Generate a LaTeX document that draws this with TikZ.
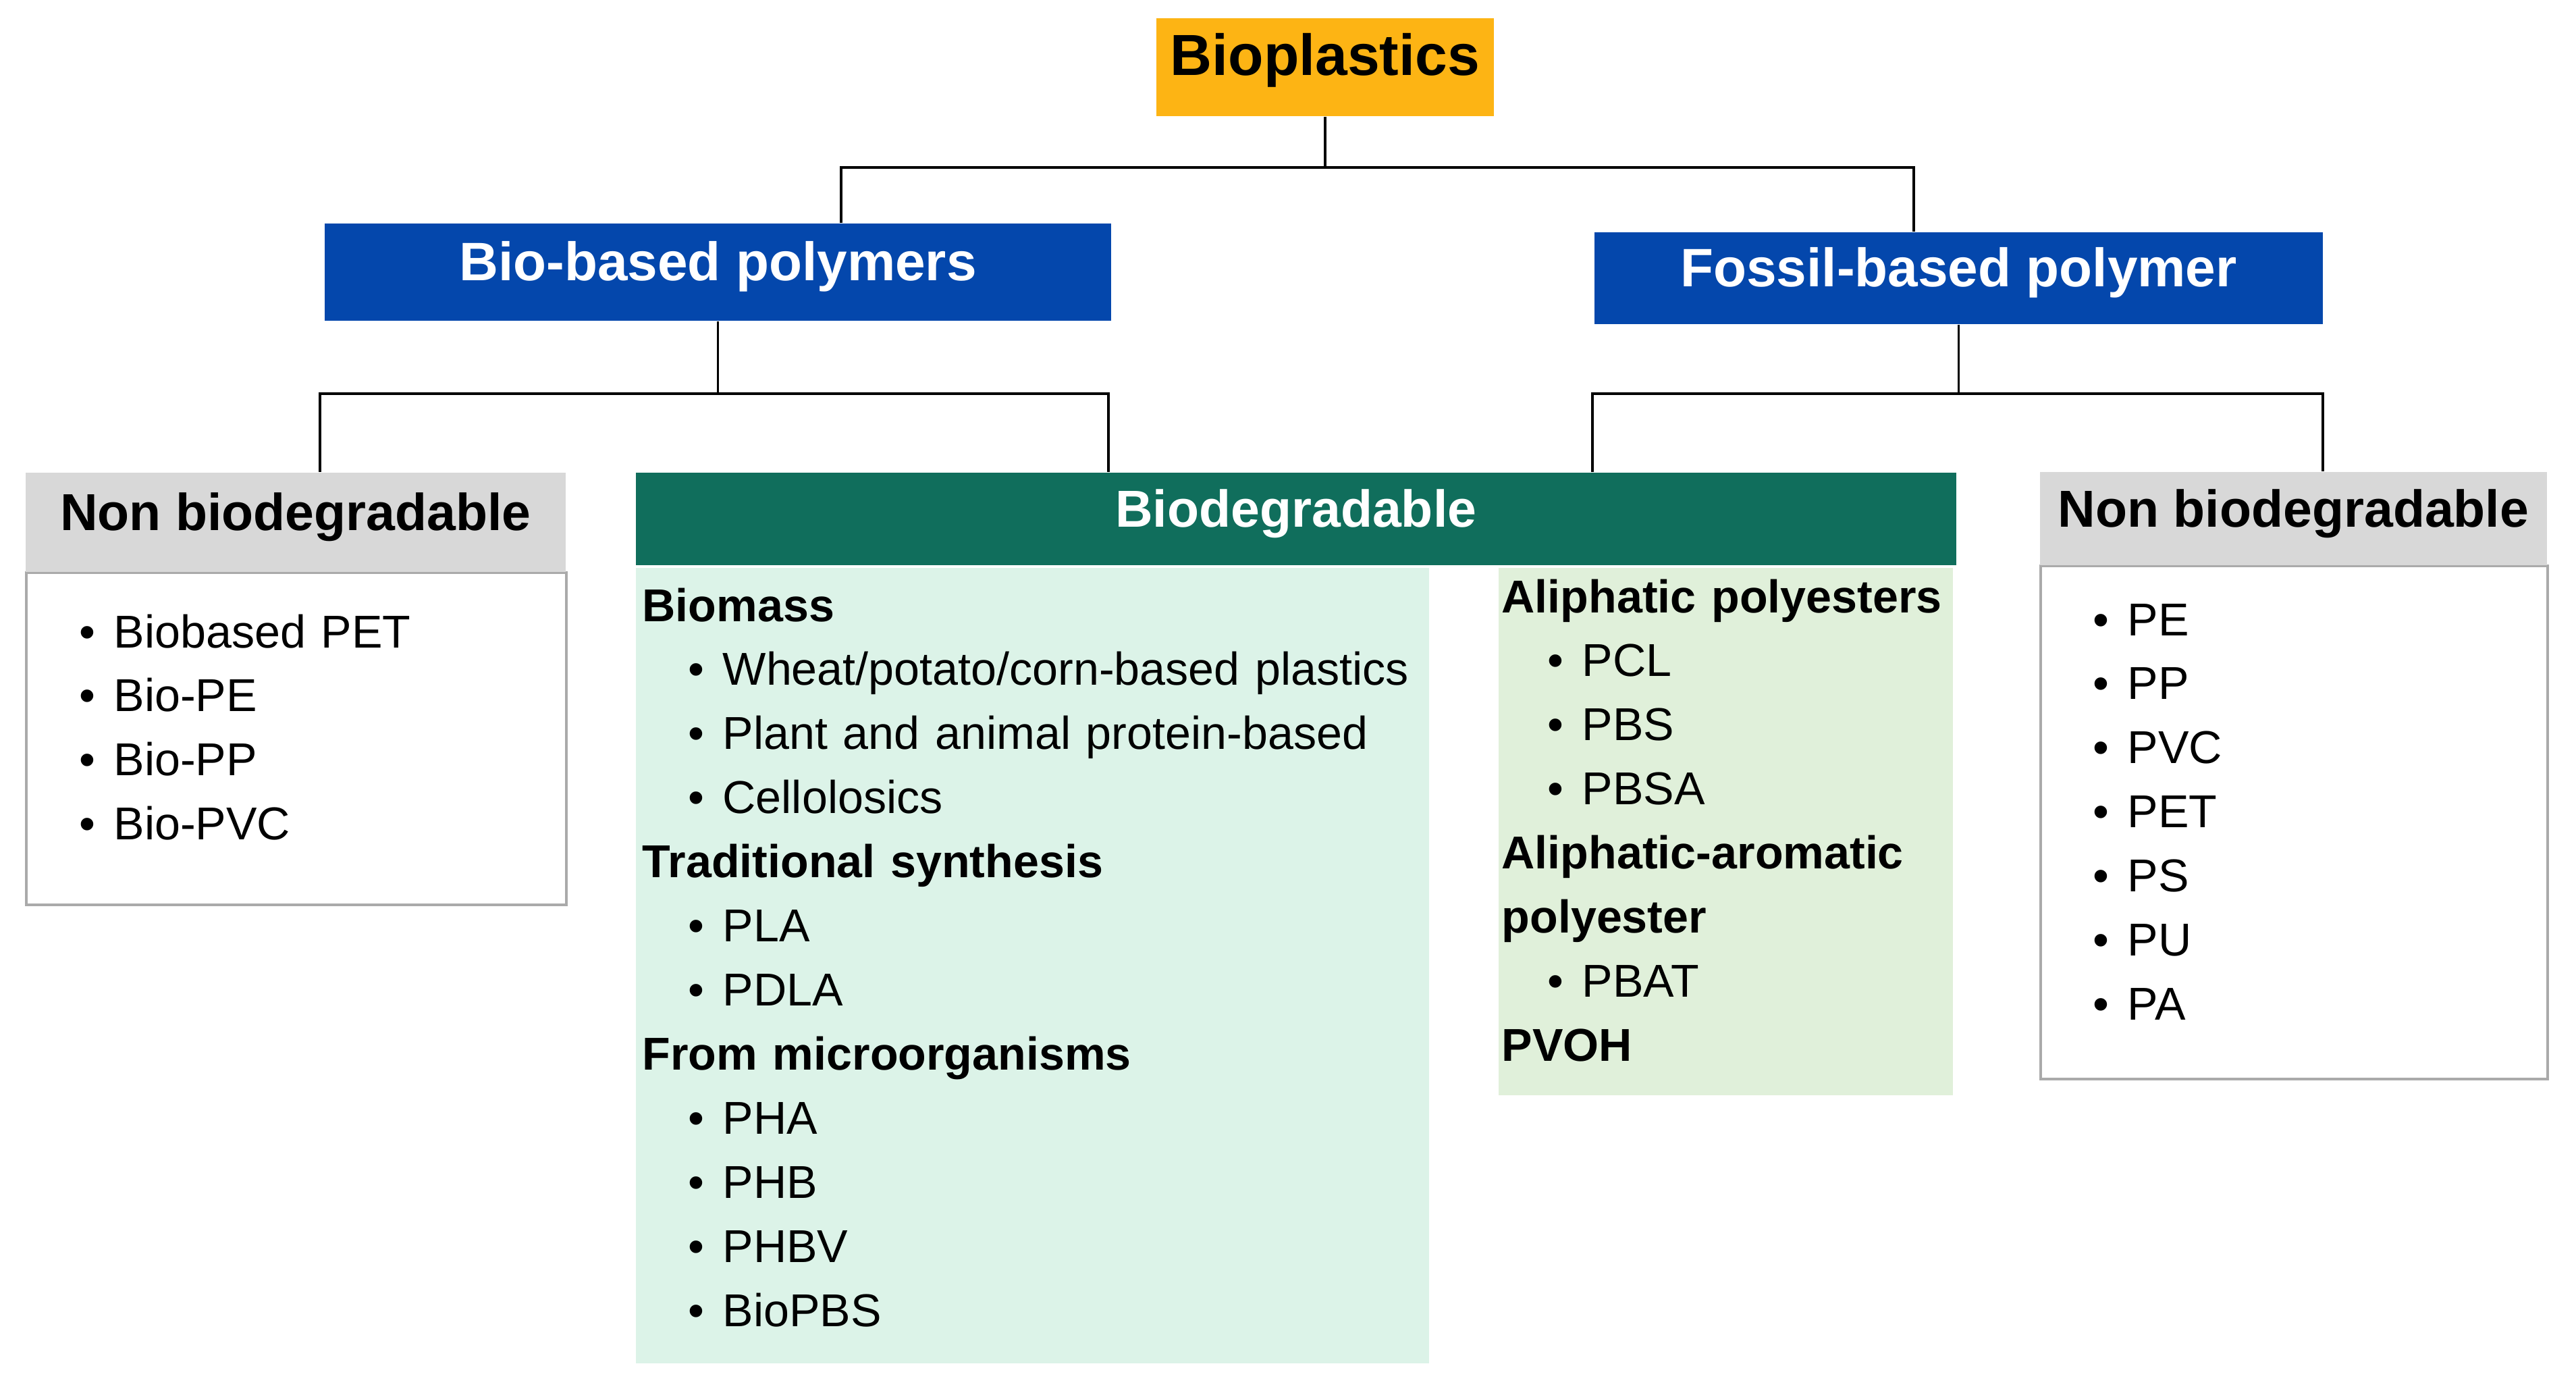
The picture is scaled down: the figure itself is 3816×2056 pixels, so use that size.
\documentclass[tikz,border=0pt]{standalone}
\usepackage{fontspec}
\setmainfont{Liberation Sans}
\usepackage{xcolor}
\usepackage{tikz}
\definecolor{BOrange}{RGB}{253,180,20}
\definecolor{BBlue}{RGB}{4,71,172}
\definecolor{BGreen}{RGB}{16,110,92}
\definecolor{BMint}{RGB}{220,243,232}
\definecolor{BSage}{RGB}{224,240,218}
\definecolor{BGray}{RGB}{216,216,216}
\definecolor{BEdge}{RGB}{170,170,170}
\newcommand{\bul}{\textbullet\hspace{0.27cm}}
\newcommand{\subbul}{\hspace*{0.68cm}\bul}

\begin{document}
\begin{tikzpicture}[
    x=0.01cm, y=-0.01cm,
    topbox/.style={
      anchor=north west,
      inner sep=0pt,
      fill=BOrange,
      text height=0.72em, text depth=0pt,
      font=\bfseries\fontsize{24.4pt}{28pt}\selectfont
    },
    polybox/.style={
      anchor=north west,
      inner sep=0pt,
      fill=BBlue,
      text=white,
      text height=0.72em, text depth=0pt,
      font=\bfseries\fontsize{22.8pt}{26pt}\selectfont
    },
    headbox/.style={
      anchor=north west,
      inner sep=0pt,
      text height=0.72em, text depth=0pt,
      font=\bfseries\fontsize{21.9pt}{26pt}\selectfont
    },
    panel/.style={
      anchor=north west,
      inner sep=0pt
    },
    list/.style={
      anchor=base west,
      inner sep=0pt,
      align=left,
      text width=#1,
      font=\fontsize{19.4pt}{27pt}\selectfont
    },
    link/.style={line width=1.1pt, black}
  ]
    \useasboundingbox[fill=white] (0,0) rectangle (3816,2056);

    % top level
    \node[topbox, minimum width=5cm, minimum height=1.45cm] (bioplastics) at (1712,26) {Bioplastics};
    \node[polybox, minimum width=11.65cm, minimum height=1.44cm] (biobased) at (480,330) {Bio-based polymers};
    \node[polybox, minimum width=10.79cm, minimum height=1.36cm] (fossil) at (2361,343) {Fossil-based polymer};

    % category headers and panels
    \node[panel, draw=BEdge, line width=1pt, minimum width=8cm, minimum height=4.92cm] (nonbioLbody) at (37,846) {};
    \node[headbox, fill=BGray, minimum width=8cm, minimum height=1.47cm] (nonbioL) at (37,699) {Non biodegradable};
    \node[headbox, fill=BGreen, text=white, minimum width=19.55cm, minimum height=1.37cm] (biodeg) at (941,699) {Biodegradable};
    \node[panel, fill=BMint, minimum width=11.75cm, minimum height=11.78cm] (biodegL) at (941,840) {};
    \node[panel, fill=BSage, minimum width=6.73cm, minimum height=7.81cm] (biodegR) at (2219,840) {};
    \node[panel, draw=BEdge, line width=1pt, minimum width=7.51cm, minimum height=7.60cm] (nonbioRbody) at (3021,836) {};
    \node[headbox, fill=BGray, minimum width=7.51cm, minimum height=1.38cm] (nonbioR) at (3021,698) {Non biodegradable};

    % lists
    \node[list=7cm] (nonbioLlist) at (117,959) {\bul Biobased PET\\ \bul Bio-PE\\ \bul Bio-PP\\ \bul Bio-PVC};
    \node[list=11.5cm] (biodegLlist) at (951,920) {\textbf{Biomass}\\
      \subbul Wheat/potato/corn-based plastics\\
      \subbul Plant and animal protein-based\\
      \subbul Cellolosics\\
      \textbf{Traditional synthesis}\\
      \subbul PLA\\
      \subbul PDLA\\
      \textbf{From microorganisms}\\
      \subbul PHA\\
      \subbul PHB\\
      \subbul PHBV\\
      \subbul BioPBS};
    \node[list=6.6cm] (biodegRlist) at (2224,907) {\textbf{Aliphatic polyesters}\\
      \subbul PCL\\
      \subbul PBS\\
      \subbul PBSA\\
      \textbf{Aliphatic-aromatic}\\
      \textbf{polyester}\\
      \subbul PBAT\\
      \textbf{PVOH}};
    \node[list=6cm] (nonbioRlist) at (3100,941) {\bul PE\\ \bul PP\\ \bul PVC\\ \bul PET\\ \bul PS\\ \bul PU\\ \bul PA};

    % bus points
    \coordinate (busA) at (1246,248);
    \coordinate (busB) at (2835,248);
    \coordinate (busC) at (474,583);
    \coordinate (busD) at (1642,583);
    \coordinate (busE) at (2359,583);
    \coordinate (busF) at (3441,583);

    % tree lines
    \draw[link] (bioplastics.south) -- (bioplastics.south |- busA);
    \draw[link] (biobased.north -| busA) |- (busB) -- (fossil.north -| busB);
    \draw[link] (biobased.south) -- (biobased.south |- busC);
    \draw[link] (nonbioL.north -| busC) |- (busD) -- (biodeg.north -| busD);
    \draw[link] (fossil.south) -- (fossil.south |- busE);
    \draw[link] (biodeg.north -| busE) |- (busF) -- (nonbioR.north -| busF);
  \end{tikzpicture}
\end{document}
